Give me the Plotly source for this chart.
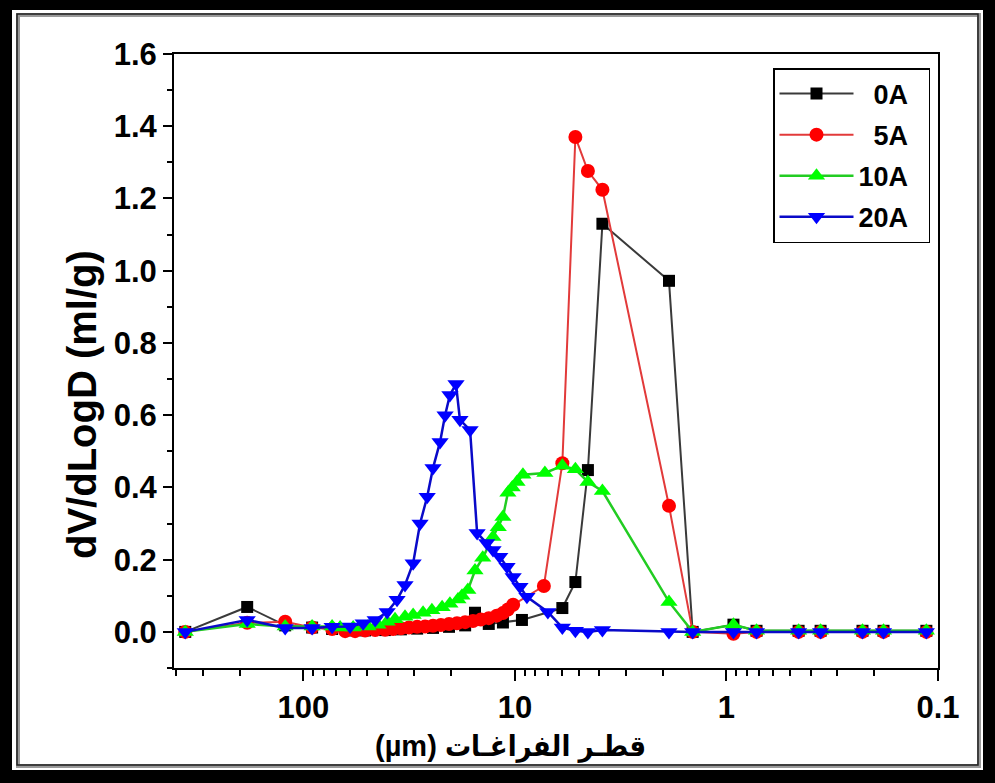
import plotly.graph_objects as go

# Pore diameter (µm) and dV/dLogD (ml/g) for each sample
d_0A = [362, 184.5, 122, 91, 73.2, 60.2, 51.1, 41.1, 34.6, 29.0, 24.4, 20.5, 17.2, 15.45, 13.3,
        11.4, 9.27, 5.97, 5.18, 4.52, 3.86, 1.87, 1.445, 0.927, 0.721, 0.456, 0.359, 0.2275,
        0.181, 0.1135]
v_0A = [0.0, 0.069, 0.018, 0.012, 0.008, 0.004, 0.004, 0.005, 0.007, 0.009, 0.011, 0.014, 0.018,
        0.053, 0.022, 0.026, 0.033, 0.066, 0.138, 0.448, 1.13, 0.972, 0.0, 0.02, 0.003, 0.003,
        0.003, 0.003, 0.003, 0.003]

d_5A = [362, 184.5, 122, 91, 73.2, 63.5, 57.0, 51.1, 45.8, 41.1, 37.7, 34.6, 31.7, 29.0, 26.6,
        24.4, 22.4, 20.5, 18.8, 17.2, 15.8, 14.5, 13.3, 12.2, 11.4, 10.8, 10.2, 7.3, 5.97, 5.18,
        4.52, 3.86, 1.87, 1.445, 0.927, 0.721, 0.456, 0.359, 0.2275, 0.181, 0.1135]
v_5A = [0.0, 0.025, 0.028, 0.012, 0.008, 0.002, 0.002, 0.004, 0.005, 0.006, 0.008, 0.01, 0.012,
        0.014, 0.015, 0.017, 0.019, 0.022, 0.024, 0.027, 0.03, 0.034, 0.038, 0.045, 0.052, 0.062,
        0.075, 0.127, 0.467, 1.37, 1.276, 1.224, 0.349, 0.0, -0.005, 0.0, 0.0, 0.0, 0.0, 0.0, 0.0]

d_10A = [362, 184.5, 122, 91, 73.2, 67.1, 58.2, 49.5, 44.4, 40.2, 36.9, 33.1, 30.3, 27.2, 24.7,
         22.1, 20.3, 18.6, 17.8, 16.7, 15.45, 14.2, 12.7, 12.0, 11.4, 10.8, 10.3, 9.78, 9.17,
         7.22, 5.97, 5.18, 4.52, 3.86, 1.87, 1.445, 0.927, 0.721, 0.456, 0.359, 0.2275, 0.181,
         0.1135]
v_10A = [0.0, 0.022, 0.015, 0.015, 0.015, 0.012, 0.012, 0.015, 0.02, 0.028, 0.035, 0.042, 0.047,
         0.053, 0.06, 0.068, 0.078, 0.09, 0.1, 0.116, 0.17, 0.205, 0.263, 0.29, 0.318, 0.385,
         0.40, 0.415, 0.435, 0.44, 0.46, 0.45, 0.415, 0.39, 0.083, 0.0, 0.02, 0.003, 0.003,
         0.003, 0.003, 0.003, 0.003]

d_20A = [362, 184.5, 122, 91, 73.2, 60.2, 52.2, 45.8, 40.2, 36.1, 33.1, 30.3, 28.1, 26.0, 24.4,
         22.6, 21.4, 20.3, 19.0, 18.2, 16.3, 15.1, 13.6, 12.7, 11.8, 10.9, 10.2, 9.47, 8.78,
         6.99, 5.97, 5.18, 4.52, 3.86, 1.87, 1.445, 0.927, 0.721, 0.456, 0.359, 0.2275, 0.181,
         0.1135]
v_20A = [0.0, 0.033, 0.011, 0.011, 0.014, 0.015, 0.024, 0.033, 0.055, 0.089, 0.13, 0.19, 0.30,
         0.374, 0.454, 0.526, 0.60, 0.656, 0.686, 0.587, 0.559, 0.274, 0.246, 0.227, 0.208,
         0.18, 0.152, 0.125, 0.097, 0.055, 0.012, 0.003, 0.0, 0.005, 0.0, 0.0, 0.0, 0.0, 0.0,
         0.0, 0.0, 0.0, 0.0]

series_names = ["\u20070A\u2007", "\u20075A\u2007", "10A\u2007", "20A\u2007"]
x_tick_vals = [100, 10, 1, 0.1]
x_tick_text = ["100", "10", "1", "0.1"]
x_title = "(µm) قطـر الفراغـات"
y_title = "dV/dLogD (ml/g)"

FONT = "Liberation Sans, Arial, DejaVu Sans, sans-serif"
FONT_AR = "Liberation Sans, DejaVu Sans Condensed, DejaVu Sans, sans-serif"
W, H = 995, 783
L, R, T, B = 174, 57, 54, 115
PW, PH = W - L - R, H - T - B


def px(x):
    return (x - L) / PW


def py(y):
    return (H - B - y) / PH


styles = [
    dict(line=dict(color="#3a3a3a", width=2), marker=dict(symbol="square", size=12, color="black")),
    dict(line=dict(color="#e23a3a", width=2), marker=dict(symbol="circle", size=14, color="#ff0000")),
    dict(line=dict(color="#22cc22", width=2.5), marker=dict(symbol="triangle-up", size=15, color="#00ff00")),
    dict(line=dict(color="#0a0ac8", width=2.5), marker=dict(symbol="triangle-down", size=15, color="#0000ff")),
]

fig = go.Figure()
for name, xs, ys, st in zip(series_names, [d_0A, d_5A, d_10A, d_20A],
                            [v_0A, v_5A, v_10A, v_20A], styles):
    fig.add_trace(go.Scatter(x=xs, y=ys, mode="lines+markers", name=name,
                             line=st["line"], marker=st["marker"], legendgroup=name))

minor_x = [k * 10.0 ** e for e in range(-1, 3) for k in range(2, 10)]

fig.update_xaxes(
    type="log", range=[2.612, -1], autorange=False,
    tickvals=x_tick_vals, ticktext=x_tick_text,
    ticks="outside", ticklen=11, tickwidth=2, tickcolor="black",
    minor=dict(tickvals=minor_x, ticks="outside", ticklen=6, tickwidth=2, tickcolor="black"),
    showline=True, linewidth=2, linecolor="black", mirror=True,
    showgrid=False, zeroline=False,
    tickfont=dict(family=FONT, size=31, color="black", weight="bold"),
)
fig.update_yaxes(
    range=[-0.1, 1.6], autorange=False,
    tick0=0, dtick=0.2, tickformat=".1f",
    ticks="outside", ticklen=9, tickwidth=2, tickcolor="black",
    minor=dict(dtick=0.1, ticks="outside", ticklen=5, tickwidth=2, tickcolor="black"),
    showline=True, linewidth=2, linecolor="black", mirror=True,
    showgrid=False, zeroline=False,
    tickfont=dict(family=FONT, size=31, color="black", weight="bold"),
)

# Double frame around the whole figure
shapes = []
for x0, y0, x1, y1 in [(0, 0, W, 10), (0, H - 13, W, H), (0, 0, 12, H), (W - 12, 0, W, H)]:
    shapes.append(dict(type="rect", xref="paper", yref="paper",
                       x0=px(x0), x1=px(x1), y0=py(y1), y1=py(y0),
                       line=dict(width=0), fillcolor="black", layer="above"))
shapes.append(dict(type="rect", xref="paper", yref="paper",
                   x0=px(18), x1=px(979), y0=py(766), y1=py(15),
                   line=dict(color="#9a9a9a", width=4), layer="above"))
shapes.append(dict(type="rect", xref="paper", yref="paper",
                   x0=px(17), x1=px(978), y0=py(765), y1=py(14),
                   line=dict(color="#202020", width=1.5), layer="above"))

fig.update_layout(
    width=W, height=H,
    margin=dict(l=L, r=R, t=T, b=B),
    paper_bgcolor="white", plot_bgcolor="white",
    showlegend=True,
    legend=dict(x=px(773), y=py(68), xanchor="left", yanchor="top",
                bordercolor="black", borderwidth=1.5, bgcolor="white",
                font=dict(family=FONT, size=27, color="black", weight="bold"),
                itemwidth=74, tracegroupgap=3),
    shapes=shapes,
    annotations=[
        dict(text=y_title, xref="paper", yref="paper", x=px(82), y=py(405),
             showarrow=False, textangle=-90, xanchor="center", yanchor="middle",
             font=dict(family=FONT, size=40, color="black", weight="bold")),
        dict(text=x_title, xref="paper", yref="paper", x=px(510), y=py(746),
             showarrow=False, xanchor="center", yanchor="middle",
             font=dict(family=FONT_AR, size=29, color="black", weight="bold")),
    ],
)

fig.write_html("out.html")
